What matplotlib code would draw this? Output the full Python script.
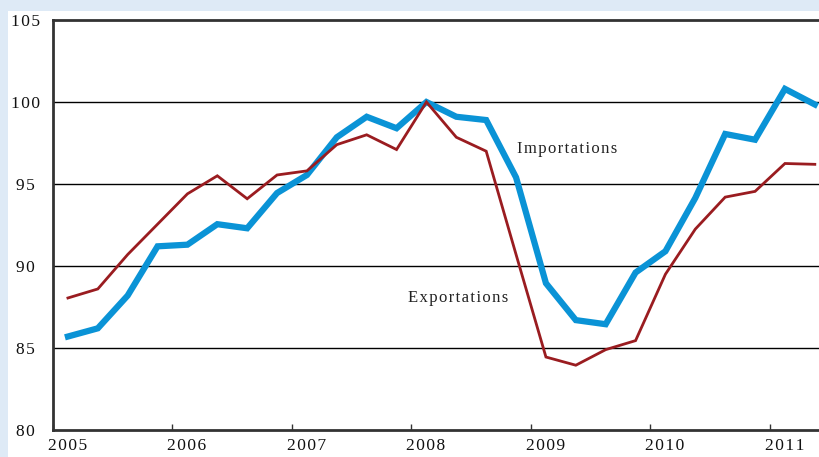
import matplotlib.pyplot as plt
import matplotlib.transforms as mtransforms

plt.rcParams['font.family'] = ['Liberation Serif', 'DejaVu Serif']

# quarterly index, 2008 Q1 = 100
years = [2005, 2006, 2007, 2008, 2009, 2010, 2011]
quarters = [y + (q - 0.5) / 4 for y in range(2005, 2012) for q in range(1, 5)][:26]

importations = [85.7, 86.2, 88.2, 91.2, 91.3, 92.55, 92.3, 94.45, 95.55, 97.85,
                99.1, 98.4, 100.0, 99.1, 98.9, 95.4, 88.95, 86.7, 86.45, 89.6,
                90.9, 94.15, 98.05, 97.7, 100.8, 99.85]
exportations = [88.05, 88.6, 90.7, 92.55, 94.4, 95.5, 94.1, 95.55, 95.8, 97.4,
                98.0, 97.1, 100.0, 97.85, 97.0, 90.7, 84.45, 83.95, 84.9, 85.45,
                89.5, 92.25, 94.2, 94.55, 96.25, 96.2]
yticks = [80, 85, 90, 95, 100, 105]


def spaced(s):
    # the original uses a letter-spaced serif face
    return '\u200a'.join(s)


fig = plt.figure(figsize=(8.2, 4.57), dpi=100, facecolor='#deeaf6')
# white panel behind the axes
fig.patches.append(plt.Rectangle((8 / 820, 0), 1, 446 / 457, transform=fig.transFigure,
                                 facecolor='white', edgecolor='none', zorder=-10))

ax = fig.add_axes([53 / 820, 27 / 457, 1 - 53 / 820, 410 / 457])
ax.set_zorder(5)
ax.set_facecolor('white')

ax.plot(quarters, importations, color='#0a93d6', lw=4.5, solid_joinstyle='miter', zorder=3)
ax.plot(quarters, exportations, color='#9a1c20', lw=2, solid_joinstyle='miter', zorder=4)

ax.set_xlim(2005, 2005 + 767 / 119.5)
ax.set_ylim(80, 105)

for v in [85, 90, 95, 100]:
    ax.axhline(v, color='black', lw=1.0, zorder=1)

for side in ['left', 'bottom', 'top']:
    ax.spines[side].set_linewidth(2)
    ax.spines[side].set_color('#333333')
ax.spines['right'].set_visible(False)

ax.set_yticks(yticks)
ax.set_yticklabels([spaced(str(v)) for v in yticks])
ax.tick_params(axis='y', length=0, pad=20, labelsize=12.5, labelcolor='#111111')
for lab in ax.get_yticklabels():
    lab.set_horizontalalignment('center')

ax.set_xticks(years)
ax.set_xticklabels([spaced(str(y)) for y in years])
ax.tick_params(axis='x', direction='in', length=4, width=1, color='#333333',
               pad=6, labelsize=12.5, labelcolor='#111111')
offset = mtransforms.ScaledTranslation(-5 / 100, 0, fig.dpi_scale_trans)
for lab in ax.get_xticklabels():
    lab.set_horizontalalignment('left')
    lab.set_transform(lab.get_transform() + offset)

ax.text(2008.88, 97.15, spaced('Importations'), fontsize=12, color='#222222',
        ha='left', va='center')
ax.text(2007.97, 88.05, spaced('Exportations'), fontsize=12, color='#222222',
        ha='left', va='center')

fig.savefig('out.png', dpi=100, facecolor=fig.get_facecolor())
